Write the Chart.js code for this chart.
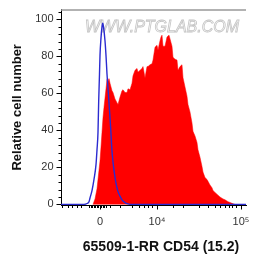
<!DOCTYPE html>
<html>
<head>
<meta charset="utf-8">
<script src="https://cdn.jsdelivr.net/npm/chart.js@4.4.1/dist/chart.umd.min.js"></script>
<style>
  body { margin: 0; background: #fff; }
</style>
</head>
<body>
<canvas id="hist" width="258" height="262"></canvas>
<script>
// x values are display channels on the biexponential axis (0 = the zero point)
const xTicks = [0, 57, 141];
const xTickLabels = ["0", "10⁴", "10⁵"];
const xMinorTicks = [-38, -32, -28, -23, -19, -11, -9.5, -8, -6.5, -5, -3.5, -2, -0.5, 1, 2.5, 4, 5.5,
  10, 20, 32, 39, 44, 48, 52, 73, 83, 99, 108, 115, 120, 125, 129, 132, 136];
const yTicks = [0, 20, 40, 60, 80, 100];
const yMinorTicks = [4, 8, 12, 16, 24, 28, 32, 36, 44, 48, 52, 56, 64, 68, 72, 76, 84, 88, 92, 96, 104];

const xTitle = "65509-1-RR CD54 (15.2)";
const yTitle = "Relative cell number";

// CD54 stained sample (red filled histogram)
const cd54X = [-7, -5, -3, -2, 0, 1, 2, 3, 4, 5, 6, 7, 8, 9, 10, 11, 12, 13, 15, 17, 18, 20, 22, 23, 25, 27, 28, 30,
  32, 33, 35, 37, 38, 40, 42, 43, 45, 47, 48, 50, 52, 53, 55, 57, 58, 60, 61, 62, 63, 65, 67, 69, 72, 73, 75, 77, 78,
  80, 82, 83, 85, 87, 88, 90, 92, 93, 95, 97, 98, 100, 102, 103, 105, 107, 108, 110, 112, 113, 115, 118, 120, 123,
  125, 128, 132, 135];
const cd54Y = [0, 3, 8.5, 13.5, 23.5, 31, 39, 47, 52.5, 57.5, 62.5, 67.5, 66.5, 68, 65.5, 63.5, 61.5, 60.5, 57, 55, 54,
  58, 61.5, 62, 60.5, 60.5, 62.5, 62, 65.5, 69.5, 72.5, 73.5, 71.5, 72.5, 73.5, 74.5, 68.5, 74.5, 74.5, 75.5, 76, 78,
  85, 86, 83.5, 88.5, 90.5, 91.5, 85.5, 85.5, 90.5, 91.5, 85.5, 79.5, 78.5, 78, 72.5, 74.5, 75.5, 68.5, 63.5, 58.5,
  54, 50, 44, 39.5, 37, 33.5, 29.5, 25.5, 20.5, 17.5, 14.5, 13.5, 12.5, 10.5, 9, 7.5, 6.5, 5, 4, 3, 2.5, 1.5, 0.6, 0];

// control (blue line)
const isoX = [-39, -16, -13, -11, -10, -8, -6, -4, -3, -2, -1.3, -0.5, 0, 1, 2, 2.7, 3.5, 5, 6, 7, 8.3, 9.5, 10.7,
  11.7, 13, 14.5, 16, 18, 20, 22, 25, 28, 32, 146];
const isoY = [0, 0, 0.5, 1.5, 3.5, 7.5, 13.5, 21.5, 29.5, 39, 56, 70.5, 80.5, 90, 96, 98, 96, 88.5, 80.5, 70.5, 60.5,
  51, 41, 31, 23, 16.5, 11.5, 7, 4.5, 2.5, 1, 0.3, 0, 0];

const extras = {
    id: 'extras',
    beforeDatasetsDraw(chart) {
        const ctx = chart.ctx, a = chart.chartArea;
        ctx.save();
        ctx.font = 'italic 16px Arial';
        ctx.strokeStyle = '#c4c4c4';
        ctx.lineWidth = 0.8;
        ctx.textBaseline = 'middle';
        ctx.strokeText('WWW.PTGLAB.COM', a.left + 24, a.top + 17.5);
        ctx.restore();
    },
    afterDraw(chart) {
        const ctx = chart.ctx, a = chart.chartArea;
        const xs = chart.scales.x, ys = chart.scales.y;
        ctx.save();
        // grey frame line on top
        ctx.strokeStyle = '#999';
        ctx.lineWidth = 1.5;
        ctx.beginPath();
        ctx.moveTo(a.left, a.top + 0.5);
        ctx.lineTo(a.right, a.top + 0.5);
        ctx.stroke();
        // minor ticks
        ctx.strokeStyle = '#000';
        ctx.lineWidth = 1;
        ctx.beginPath();
        xMinorTicks.forEach(v => {
            const p = Math.round(xs.getPixelForValue(v)) + 0.5;
            ctx.moveTo(p, a.bottom);
            ctx.lineTo(p, a.bottom + 3);
        });
        yMinorTicks.forEach(v => {
            const p = Math.round(ys.getPixelForValue(v)) + 0.5;
            ctx.moveTo(a.left, p);
            ctx.lineTo(a.left - 2.5, p);
        });
        ctx.stroke();
        // axis titles
        ctx.fillStyle = '#111';
        ctx.textAlign = 'center';
        ctx.textBaseline = 'middle';
        ctx.font = 'bold 14px Arial';
        ctx.fillText(xTitle, 161, 247);
        ctx.translate(17.5, (a.top + a.bottom) / 2);
        ctx.rotate(-Math.PI / 2);
        ctx.font = 'bold 13px Arial';
        ctx.fillText(yTitle, 0, 0);
        ctx.restore();
    }
};

new Chart(document.getElementById('hist'), {
    type: 'line',
    data: {
        datasets: [{
            label: 'control',
            data: isoX.map((x, i) => ({x: x, y: isoY[i]})),
            borderColor: '#2b2bd0',
            borderWidth: 1.4,
            fill: false,
            pointRadius: 0,
            cubicInterpolationMode: 'monotone',
            order: 0
        }, {
            label: 'CD54',
            data: cd54X.map((x, i) => ({x: x, y: cd54Y[i]})),
            borderColor: '#ff0000',
            borderWidth: 0.5,
            backgroundColor: '#ff0000',
            fill: 'origin',
            pointRadius: 0,
            tension: 0,
            order: 1
        }]
    },
    options: {
        responsive: false,
        animation: false,
        layout: { padding: { left: 0, right: 12, top: 5, bottom: 0 } },
        plugins: { legend: { display: false }, tooltip: { enabled: false } },
        scales: {
            x: {
                type: 'linear',
                min: -39,
                max: 146,
                afterFit: s => { s.height = 57; },
                afterBuildTicks: s => { s.ticks = xTicks.map(v => ({value: v})); },
                grid: { drawOnChartArea: false, tickLength: 4.5, tickColor: '#000' },
                border: { color: '#000', width: 1 },
                ticks: {
                    autoSkip: false,
                    maxRotation: 0,
                    padding: 6,
                    color: '#333',
                    font: { family: 'Arial', size: 11 },
                    callback: v => xTickLabels[xTicks.indexOf(v)]
                }
            },
            y: {
                min: -0.3,
                max: 105.3,
                afterFit: s => { s.width = 61; },
                afterBuildTicks: s => { s.ticks = yTicks.map(v => ({value: v})); },
                grid: { drawOnChartArea: false, tickLength: 4.5, tickColor: '#000' },
                border: { color: '#000', width: 1 },
                ticks: {
                    padding: 3,
                    color: '#333',
                    font: { family: 'Arial', size: 11 }
                }
            }
        }
    },
    plugins: [extras]
});
</script>
</body>
</html>
